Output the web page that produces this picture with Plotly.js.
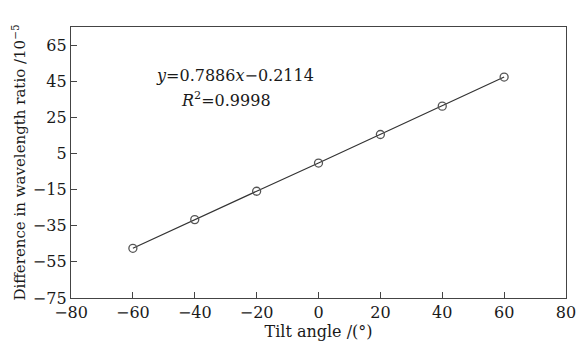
<!DOCTYPE html>
<html><head><meta charset="utf-8">
<script src="https://cdn.plot.ly/plotly-3.0.1.min.js"></script>
<style>html,body{margin:0;padding:0;background:#fff}</style>
</head><body><div id="chart" style="width:579px;height:347px"></div>
<script>
const tiltAngle = [-60, -40, -20, 0, 20, 40, 60];
const wavelengthDiff = [-47.5, -31.6, -15.9, -0.3, 15.5, 31.2, 47.3];
const xTicks = [-80, -60, -40, -20, 0, 20, 40, 60, 80];
const yTicks = [-75, -55, -35, -15, 5, 25, 45, 65];
const fitText = "<i>y</i>=0.7886<i>x</i>−0.2114";
const r2Text = "<i>R</i><sup>2</sup>=0.9998";

const font = {family: "DejaVu Serif, Liberation Serif, serif", color: "#1a1a1a"};
Plotly.newPlot("chart", [{
  x: tiltAngle, y: wavelengthDiff, mode: "lines+markers", type: "scatter",
  line: {color: "#333", width: 1.2},
  marker: {symbol: "circle-open", size: 8, color: "#555", line: {width: 1.3}}
}], {
  width: 579, height: 347,
  margin: {l: 71, r: 13, t: 27, b: 49},
  paper_bgcolor: "#fff", plot_bgcolor: "#fff",
  showlegend: false,
  font: Object.assign({size: 14}, font),
  xaxis: {range: [-80, 80], tickvals: xTicks, ticktext: xTicks.map(v => v < 0 ? "−" + (-v) : String(v)),
    ticks: "inside", ticklen: 6, tickcolor: "#444", showline: true, linecolor: "#444", linewidth: 1.2,
    mirror: true, showgrid: false, zeroline: false,
    tickfont: Object.assign({size: 16}, font),
    title: {text: "Tilt angle /(°)", font: Object.assign({size: 16}, font), standoff: 2}},
  yaxis: {range: [-75, 75], tickvals: yTicks, ticktext: yTicks.map(v => v < 0 ? "−" + (-v) : String(v)),
    ticks: "inside", ticklen: 6, tickcolor: "#444", showline: true, linecolor: "#444", linewidth: 1.2,
    mirror: true, showgrid: false, zeroline: false,
    tickfont: Object.assign({size: 16}, font),
    title: {text: "Difference in wavelength ratio /10<sup>−5</sup>", font: Object.assign({size: 15}, font), standoff: 3}},
  annotations: [
    {x: -26.9, y: 48.4, xref: "x", yref: "y", text: fitText, showarrow: false, font: Object.assign({size: 16}, font)},
    {x: -29.8, y: 34.6, xref: "x", yref: "y", text: r2Text, showarrow: false, font: Object.assign({size: 16}, font)}
  ]
}, {displayModeBar: false, staticPlot: true});
</script></body></html>
